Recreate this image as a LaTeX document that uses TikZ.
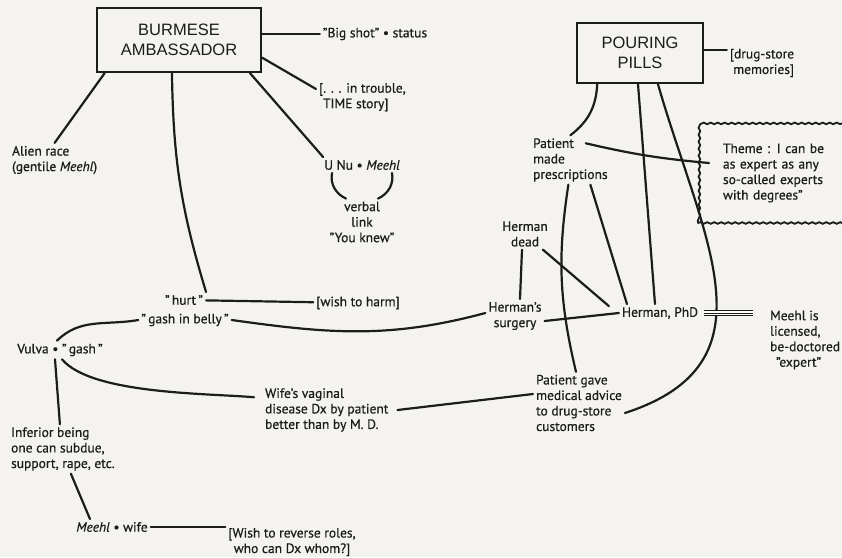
\documentclass[tikz,border=0pt]{standalone}
\usepackage{fontspec}
\setmainfont{PT Sans}[FakeBold=0.6]
\newfontfamily\boxfont{Liberation Sans}
\usetikzlibrary{decorations.pathmorphing}
\definecolor{paper}{RGB}{244,243,239}
\definecolor{ink}{RGB}{28,28,28}

\begin{document}
\begin{tikzpicture}[x=1pt, y=1pt, line width=2.2pt, line cap=round, color=ink,
      every node/.append style={font=\fontsize{13.5}{15.5}\selectfont, inner sep=2pt},
      note/.style={align=left},
      triple/.style={double, double distance=4pt, line width=1pt, line cap=butt, shorten <=3pt, shorten >=14pt}]
    \tikzstyle{headbox} = [draw=ink, rectangle, align=center, font=\boxfont\fontsize{16.5}{20}\selectfont]
    \tikzstyle{themebox} = [draw=ink, decorate, decoration={snake, amplitude=0.8pt, segment length=7pt},
                            line width=1.8pt, minimum width=160pt, minimum height=100pt, text width=110pt, align=left]
    \fill[paper] (0,0) rectangle (842,-557);
    \useasboundingbox (0,0) rectangle (842,-557);

    \node[headbox, minimum width=164pt, minimum height=64pt] (burmese) at (179,-40) {BURMESE\\AMBASSADOR};
    \node (bigshot) at (375,-34) {"Big shot" \textbullet{} status};
    \node[note, anchor=north west] (trouble) at (316,-80) {[. . . in trouble,\\\hspace{4pt}TIME story]};
    \node[note, anchor=west] (alien) at (9,-160) {Alien race\\(gentile \textit{Meehl})};
    \node (unu) at (362,-165) {U Nu \textbullet{} \textit{Meehl}};
    \node[align=center] (verbal) at (362,-222) {verbal\\link\\"You knew"};
    \node (hurt) at (184,-300) {"\,hurt\,"};
    \node (wish) at (358,-303) {[wish to harm]};
    \node (belly) at (185,-320) {"\,gash in belly\,"};
    \node (vulva) at (60,-350) {Vulva \textbullet{} "\,gash\,"};
    \node[note, anchor=west] (wife) at (262,-410) {Wife's vaginal\\disease Dx by patient\\better than by M. D.};
    \node[note, anchor=west] (inferior) at (8,-449) {Inferior being\\one can subdue,\\support, rape, etc.};
    \node (mwife) at (112,-527) {\textit{Meehl} \textbullet{} wife};
    \node[align=center] (reverse) at (292,-542) {[Wish to reverse roles,\\who can Dx whom?]};

    \node[headbox, minimum width=126pt, minimum height=60pt] (pouring) at (640,-53) {POURING\\PILLS};
    \node[align=right] (drugstore) at (762,-63) {[drug-store\\memories]};
    \node[note, anchor=west] (pmade) at (530,-160) {Patient\\made\\prescriptions};
    \node[themebox] (theme) at (778,-173) {Theme : I can be\\as expert as any\\so-called experts\\with degrees"};
    \node[align=center] (hdead) at (525,-234) {Herman\\dead};
    \node[align=center] (hsurg) at (515,-316) {Herman's\\surgery};
    \node (phd) at (660,-313) {Herman, PhD};
    \node[note, anchor=west] (licensed) at (767,-340) {Meehl is\\licensed,\\be-doctored\\\hspace{6pt}"expert"};
    \node[note, anchor=west] (pgave) at (533,-403) {Patient gave\\medical advice\\to drug-store\\customers};

    \draw (bigshot.west -| burmese.east) -- (bigshot.west);
    \draw (burmese.-12) -- ([yshift=-9pt]trouble.north west);
    \draw (burmese.-156) -- (alien.north);
    \draw (burmese.-25) -- ([xshift=2pt]unu.north west);
    \draw (burmese.-102) to[bend right=8] (hurt.north east);
    \draw ([xshift=-30pt]unu.south) to[out=-100,in=155] ([xshift=-16pt]verbal.north);
    \draw ([xshift=30pt]unu.south) to[out=-80,in=25] ([xshift=16pt]verbal.north);
    \draw (hurt) -- (wish);
    \draw (belly.east) to[out=-8,in=195] ([yshift=3pt]hsurg.west);
    \draw ([xshift=-3pt]vulva.north) to[out=45,in=190] (belly.west);
    \draw ([xshift=2pt]vulva.south) to[out=-50,in=175,looseness=0.6] ([xshift=-8pt,yshift=-12pt]wife.north west);
    \draw ([xshift=-5pt]vulva.south) -- ([xshift=-3pt]inferior.north);
    \draw ([xshift=8pt]inferior.south) -- ([xshift=-22pt]mwife.north);
    \draw (mwife.east) -- (mwife.east -| reverse.west);
    \draw ([xshift=6pt]wife.east) -- ([yshift=9pt]pgave.west);

    \draw ([yshift=3pt]pouring.east) -- ([yshift=3pt]pouring.east -| drugstore.west);
    \draw (pouring.-144) to[bend left=25] (pmade.north);
    \draw ([xshift=-25pt,yshift=-8pt]pmade.north east) to[bend right=4] ([xshift=12pt,yshift=10pt]theme.west);
    \draw ([xshift=-2pt]pouring.south) -- ([xshift=-5pt]phd.north);
    \draw (pouring.-60) to[out=-74,in=18,looseness=1.25] ([yshift=-10pt]pgave.east);
    \draw ([xshift=-2pt]pmade.south) to[bend right=11] ([xshift=-3pt]pgave.north);
    \draw ([xshift=20pt]pmade.south) -- ([xshift=-33pt]phd.north);
    \draw ([xshift=-3pt]hdead.south) -- ([xshift=5pt]hsurg.north);
    \draw ([xshift=-8pt]hdead.south east) -- ([xshift=-10pt,yshift=-2pt]phd.north west);
    \draw ([yshift=-5pt]hsurg.east) -- (phd.west);
    \draw[triple] (phd.east) -- (phd.east -| licensed.west);
    \draw[line width=1pt, line cap=butt, shorten <=3pt, shorten >=14pt] (phd.east) -- (phd.east -| licensed.west);
\end{tikzpicture}
\end{document}
